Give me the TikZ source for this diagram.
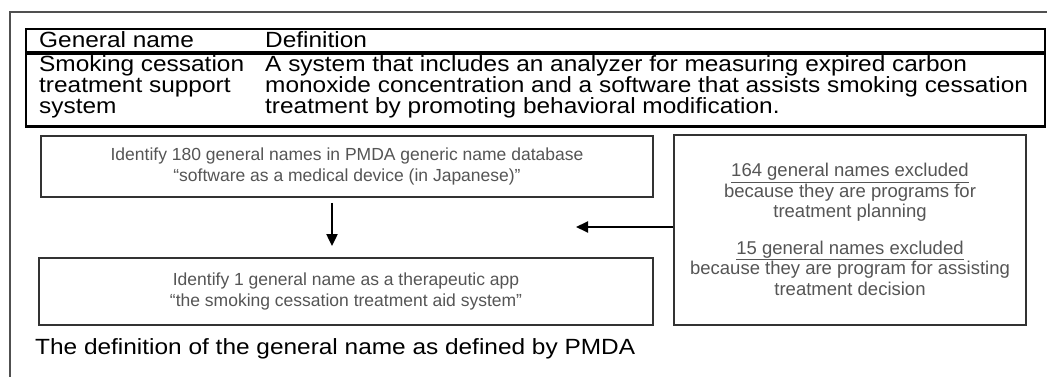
\documentclass[tikz,border=0pt]{standalone}
\usepackage{fontspec}
\setmainfont{Liberation Sans}
\newfontfamily\tabfont[FakeStretch=1.11]{Liberation Sans}
\usetikzlibrary{arrows.meta}
\definecolor{boxtext}{HTML}{555555}
\definecolor{boxline}{HTML}{333333}
\definecolor{framegray}{HTML}{505050}
\begin{document}
\begin{tikzpicture}[x=1pt,y=-1pt,
  tabtext/.style={anchor=base west, inner sep=0pt, font=\tabfont\fontsize{22}{21}\selectfont},
  flowbox/.style={draw=boxline, line width=1.8pt, fill=white, text=boxtext, align=center,
    font=\fontsize{17.5}{20.5}\selectfont, inner sep=0pt},
  boxtxt/.style={text=boxtext, align=center, inner sep=0pt, font=\fontsize{18.5}{20.5}\selectfont},
  arr/.style={line width=2pt, -{Triangle[width=11pt,length=12pt]}}]
\useasboundingbox[fill=white] (0,0) rectangle (1047,377);
% outer frame
\draw[framegray, line width=1.3pt] (1047,12) -- (10,12) -- (10,377);
% table
\draw[line width=2.5pt] (26,29) rectangle (1045,127);
\draw[line width=4pt] (26,53) -- (1045,53);
\draw[line width=3pt] (24.75,127) -- (1046.25,127);
\node[tabtext] (h1) at (39,47.5) {General name};
\node[tabtext] (h2) at (265,47.5) {Definition};
\node[tabtext] (g1) at (39,72) {Smoking cessation};
\node[tabtext] (g2) at (39,93) {treatment support};
\node[tabtext] (g3) at (39,114) {system};
\node[tabtext] (d1) at (265,72) {A system that includes an analyzer for measuring expired carbon};
\node[tabtext] (d2) at (265,93) {monoxide concentration and a software that assists smoking cessation};
\node[tabtext] (d3) at (265,114) {treatment by promoting behavioral modification.};
% flow boxes
\node[flowbox, minimum width=612pt, minimum height=61pt] (b1) at (347,166.5)
  {Identify 180 general names in PMDA generic name database\\“software as a medical device (in Japanese)”};
\node[flowbox, minimum width=614pt, minimum height=67pt] (b2) at (346,291.5)
  {Identify 1 general name as a therapeutic app\\“the smoking cessation treatment aid system”};
\node[flowbox, minimum width=352pt, minimum height=190pt] (b3) at (850,230) {};
\node[boxtxt] (b3t) at (850,229.5)
  {\underline{164 general names excluded}\\because they are programs for\\treatment planning\\[16pt]
   \underline{15 general names excluded}\\because they are program for assisting\\treatment decision};
% arrows
\draw[arr] ([xshift=-15pt,yshift=-5pt]b1.south) -- ([xshift=-14pt,yshift=11pt]b2.north);
\coordinate (tip) at (576,227);
\draw[arr] (b3.west |- tip) -- (tip);
% caption
\node[tabtext] (cap) at (35,354) {The definition of the general name as defined by PMDA};
\end{tikzpicture}
\end{document}
